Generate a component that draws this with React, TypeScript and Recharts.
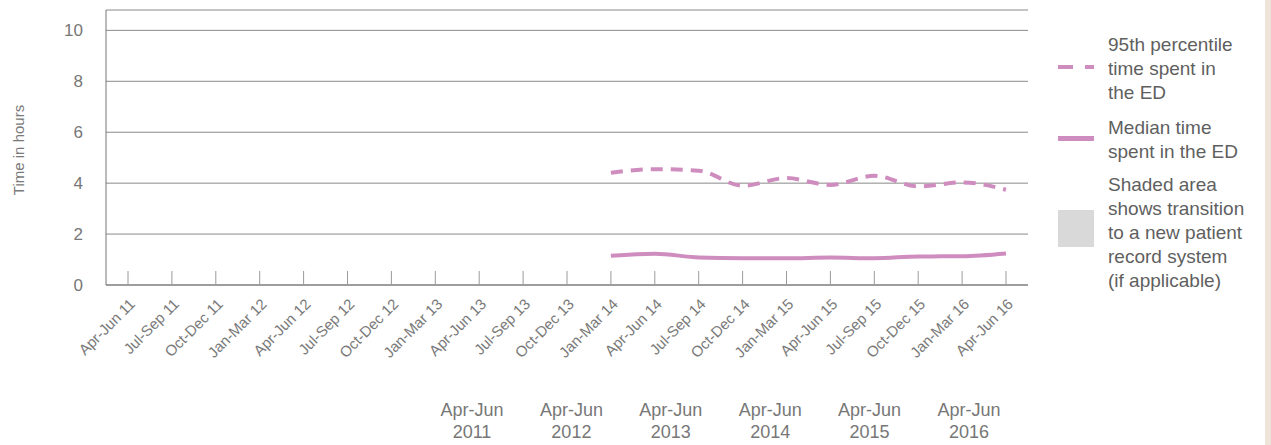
import React from 'react';
import { LineChart, Line, XAxis, YAxis, CartesianGrid } from 'recharts';

const quarters = [
  'Apr-Jun 11', 'Jul-Sep 11', 'Oct-Dec 11', 'Jan-Mar 12', 'Apr-Jun 12', 'Jul-Sep 12',
  'Oct-Dec 12', 'Jan-Mar 13', 'Apr-Jun 13', 'Jul-Sep 13', 'Oct-Dec 13', 'Jan-Mar 14',
  'Apr-Jun 14', 'Jul-Sep 14', 'Oct-Dec 14', 'Jan-Mar 15', 'Apr-Jun 15', 'Jul-Sep 15',
  'Oct-Dec 15', 'Jan-Mar 16', 'Apr-Jun 16',
];

// hours, no data before Jan-Mar 14
const p95Hours = [
  null, null, null, null, null, null, null, null, null, null, null,
  4.41, 4.55, 4.49, 3.9, 4.2, 3.93, 4.29, 3.87, 4.03, 3.74,
];
const medianHours = [
  null, null, null, null, null, null, null, null, null, null, null,
  1.15, 1.23, 1.08, 1.05, 1.05, 1.08, 1.05, 1.12, 1.13, 1.24,
];

const yTicks = [0, 2, 4, 6, 8, 10];
const yearLabels = ['2011', '2012', '2013', '2014', '2015', '2016'];

const data = quarters.map((quarter, i) => ({
  quarter,
  p95: p95Hours[i],
  median: medianHours[i],
}));

const PINK = '#cf8cbe';
const FONT = '"Liberation Sans", Arial, sans-serif';

const QuarterTick = (props: any) => {
  const { x, y, payload } = props;
  return (
    <g transform={`translate(${x},${y})`}>
      <line x1={0} x2={0} y1={-14} y2={0} stroke="#9a9a9a" strokeWidth={1} />
      <text
        x={8}
        y={20}
        textAnchor="end"
        transform="rotate(-45 8 20)"
        fill="#7a7a7a"
        fontSize={15}
        fontFamily={FONT}
      >
        {payload.value}
      </text>
    </g>
  );
};

const legendText: React.CSSProperties = {
  position: 'absolute',
  left: 1108,
  fontSize: 19,
  lineHeight: '24px',
  color: '#5f5f5f',
  fontFamily: FONT,
};

export default function App() {
  return (
    <div style={{ position: 'absolute', left: 0, top: 0, width: 1271, height: 445, background: '#fff', fontFamily: FONT }}>
      <LineChart width={1271} height={445} data={data} margin={{ top: 10, right: 243, bottom: 0, left: 0 }}>
        <CartesianGrid horizontal vertical={false} stroke="#8a8a8a" />
        <XAxis
          dataKey="quarter"
          interval={0}
          height={160}
          padding={{ left: 22, right: 22 }}
          tickSize={0}
          tickMargin={0}
          tickLine={false}
          axisLine={{ stroke: '#777' }}
          tick={<QuarterTick />}
        />
        <YAxis
          width={106}
          domain={[0, 10.8]}
          ticks={yTicks}
          tickLine={false}
          tickSize={0}
          tickMargin={23}
          axisLine={{ stroke: '#777' }}
          tick={{ fill: '#777', fontSize: 17, fontFamily: FONT }}
        />
        <Line
          type="monotone"
          dataKey="p95"
          stroke={PINK}
          strokeWidth={4}
          strokeDasharray="12 8"
          dot={false}
          isAnimationActive={false}
        />
        <Line
          type="monotone"
          dataKey="median"
          stroke={PINK}
          strokeWidth={4}
          dot={false}
          isAnimationActive={false}
        />
      </LineChart>

      <div
        style={{
          position: 'absolute',
          left: 18,
          top: 150,
          transform: 'translate(-50%, -50%) rotate(-90deg)',
          whiteSpace: 'nowrap',
          fontSize: 15,
          color: '#7a7a7a',
        }}
      >
        Time in hours
      </div>

      {/* legend */}
      <div style={{ position: 'absolute', left: 1058, top: 65, width: 15, height: 4, background: PINK }} />
      <div style={{ position: 'absolute', left: 1085, top: 65, width: 9, height: 4, background: PINK }} />
      <div style={{ ...legendText, top: 33 }}>
        95th percentile<br />time spent in<br />the ED
      </div>
      <div style={{ position: 'absolute', left: 1058, top: 136, width: 36, height: 5, background: PINK }} />
      <div style={{ ...legendText, top: 116 }}>
        Median time<br />spent in the ED
      </div>
      <div style={{ position: 'absolute', left: 1058, top: 210, width: 36, height: 37, background: '#d9d9d9' }} />
      <div style={{ ...legendText, top: 173 }}>
        Shaded area<br />shows transition<br />to a new patient<br />record system<br />(if applicable)
      </div>

      {/* year labels under the chart */}
      {yearLabels.map((yr, i) => (
        <div
          key={yr}
          style={{
            position: 'absolute',
            left: 472 + i * 99.4,
            top: 399,
            transform: 'translateX(-50%)',
            textAlign: 'center',
            fontSize: 18,
            lineHeight: '22px',
            color: '#777',
            whiteSpace: 'nowrap',
          }}
        >
          Apr-Jun<br />{yr}
        </div>
      ))}

      <div style={{ position: 'absolute', left: 1265, top: 0, width: 6, height: 445, background: '#efe4d8' }} />
    </div>
  );
}
